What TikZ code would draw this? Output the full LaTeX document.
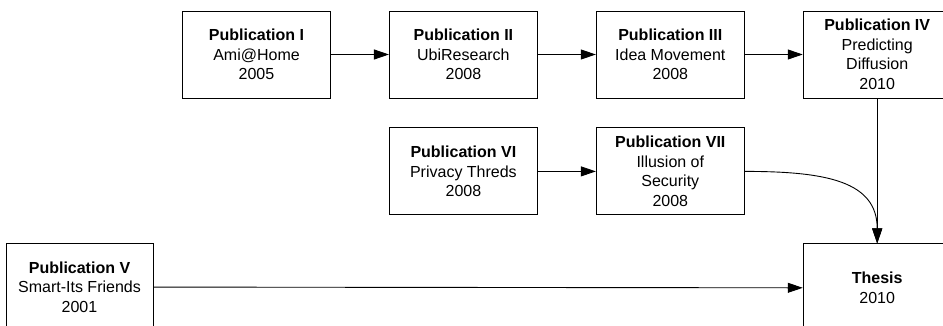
\documentclass[tikz,border=0pt]{standalone}
\usepackage{fontspec}
\setmainfont{Liberation Sans}
\usetikzlibrary{arrows.meta,positioning}
\tikzset{
    >={Triangle[length=15pt,width=10pt]},
    every picture/.style={line width=0.9pt},
    pub/.style={rectangle,draw,minimum width=148pt,minimum height=87pt,
        inner sep=2pt,align=center,font=\fontsize{16}{19.5}\selectfont}
}
\begin{document}
\begin{tikzpicture}[x=1pt,y=-1pt]
    \useasboundingbox (0,0) rectangle (943,326);
    % Top row
    \node[pub] (p1) at (256.5,54.5) {\textbf{Publication I}\\Ami@Home\\2005};
    \node[pub,right=58pt of p1] (p2) {\textbf{Publication II}\\UbiResearch\\2008};
    \node[pub,right=58pt of p2] (p3) {\textbf{Publication III}\\Idea Movement\\2008};
    \node[pub,right=58pt of p3] (p4) {\textbf{Publication IV}\\Predicting\\Diffusion\\2010};

    % Middle row
    \node[pub,below=29pt of p2] (p6) {\textbf{Publication VI}\\Privacy Threds\\2008};
    \node[pub,right=58pt of p6] (p7) {\textbf{Publication VII}\\Illusion of\\Security\\2008};

    % Bottom row
    \node[pub,minimum width=147pt] (p5) at (79.5,287) {\textbf{Publication V}\\Smart-Its Friends\\2001};
    \node[pub,minimum height=88pt,below=145pt of p4] (thesis) {\textbf{Thesis}\\2010};

    % Arrows
    \draw[->] (p1) -- (p2);
    \draw[->] (p2) -- (p3);
    \draw[->] (p3) -- (p4);
    \draw[->] (p6) -- (p7);
    \draw[->] (p4) -- (thesis);
    \draw[->] (p7.east) .. controls +(82,0) and +(0,-62) .. (thesis.north);
    \draw[->] (p5) -- (thesis);
\end{tikzpicture}
\end{document}
